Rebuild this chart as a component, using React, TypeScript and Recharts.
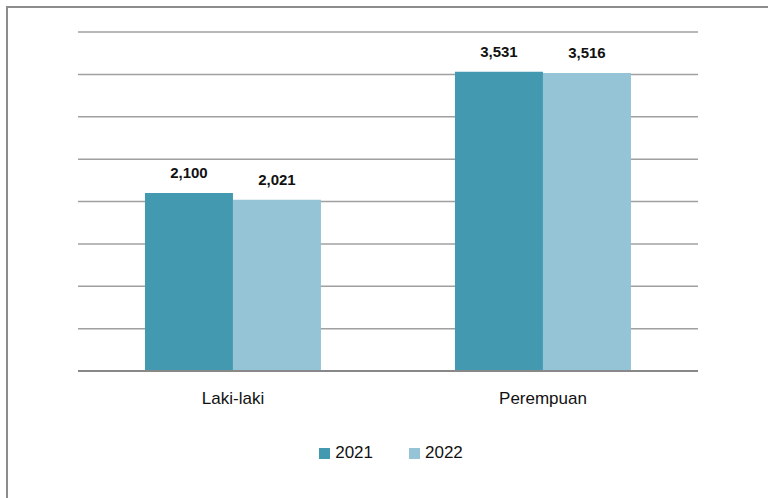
import { BarChart, Bar, CartesianGrid, XAxis, YAxis, LabelList } from "recharts";

const categories = ["Laki-laki", "Perempuan"];
const values2021 = [2100, 3531];
const values2022 = [2021, 3516];
const yTicks = [0, 500, 1000, 1500, 2000, 2500, 3000, 3500, 4000];

const series = [
  { key: "y2021", label: "2021", color: "#4399B0", values: values2021 },
  { key: "y2022", label: "2022", color: "#94C4D5", values: values2022 },
];

const data = categories.map((c, i) => {
  const row: Record<string, string | number> = { name: c };
  series.forEach((s) => (row[s.key] = s.values[i]));
  return row;
});

const font = "'Liberation Sans', Arial, sans-serif";
const fmt = (v: any) => Number(v).toLocaleString("en-US");

export default function App() {
  return (
    <div style={{ position: "absolute", left: 0, top: 0, width: 768, height: 498, overflow: "hidden", background: "#fff", fontFamily: font }}>
      <div
        style={{
          position: "absolute",
          left: 6,
          top: 6,
          width: 800,
          height: 540,
          border: "2px solid #8c8c8c",
          boxSizing: "border-box",
        }}
      />
      <div style={{ position: "absolute", left: 0, top: 0 }}>
        <BarChart
          width={768}
          height={498}
          data={data}
          margin={{ top: 32, right: 70, left: 78, bottom: 97 }}
          barCategoryGap="21.6%"
          barGap={0}
        >
          <CartesianGrid vertical={false} stroke="#a0a0a0" strokeWidth={1.5} />
          <YAxis hide domain={[0, 4000]} ticks={yTicks} width={0} />
          <XAxis
            dataKey="name"
            height={30}
            axisLine={{ stroke: "#888", strokeWidth: 2 }}
            tickLine={false}
            tickMargin={15}
            tick={{ fontSize: 17, fill: "#111", fontFamily: font }}
          />
          {series.map((s) => (
            <Bar key={s.key} dataKey={s.key} name={s.label} fill={s.color} isAnimationActive={false}>
              <LabelList
                dataKey={s.key}
                position="top"
                offset={15}
                formatter={fmt}
                style={{ fontSize: 15, fontWeight: "bold", fill: "#111", fontFamily: font }}
              />
            </Bar>
          ))}
        </BarChart>
      </div>
      <div
        style={{
          position: "absolute",
          top: 443,
          left: 0,
          width: 768,
          display: "flex",
          justifyContent: "center",
          gap: 36,
          fontSize: 17,
          color: "#111",
          paddingLeft: 14,
          boxSizing: "border-box",
        }}
      >
        {series.map((s) => (
          <span key={s.key} style={{ display: "inline-flex", alignItems: "center", gap: 5 }}>
            <span style={{ width: 11, height: 11, background: s.color, display: "inline-block" }} />
            <span>{s.label}</span>
          </span>
        ))}
      </div>
    </div>
  );
}
